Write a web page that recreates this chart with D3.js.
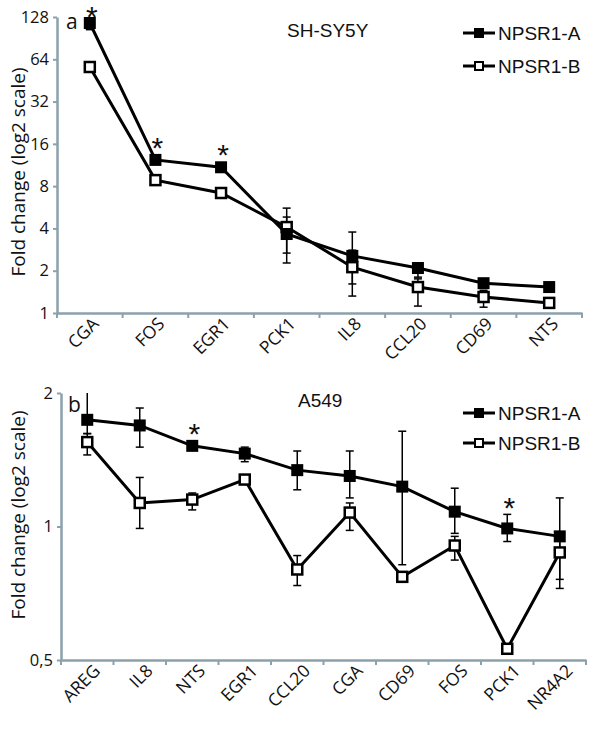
<!DOCTYPE html>
<html>
<head>
<meta charset="utf-8">
<script src="https://cdn.jsdelivr.net/npm/d3@7"></script>
<style>
  html, body { margin: 0; padding: 0; background: #fff; }
  svg { display: block; }
</style>
</head>
<body>
<svg id="chart" width="600" height="744"></svg>
<script>
// ---------- Data: panel a (SH-SY5Y) ----------
const catsA = ["CGA", "FOS", "EGR1", "PCK1", "IL8", "CCL20", "CD69", "NTS"];
const aNPSR1A = [116, 12.3, 10.9, 3.65, 2.55, 2.09, 1.63, 1.53];
const aNPSR1B = [56.4, 8.83, 7.15, 4.09, 2.12, 1.53, 1.30, 1.18];
const aHiA = [126, null, null, 5.58, 3.77, 2.27, 1.70, 1.58];
const aLoA = [104, null, null, 2.27, 1.61, 1.80, 1.55, 1.48];
const aHiB = [null, null, null, 4.82, 2.80, 1.75, 1.45, null];
const aLoB = [null, null, null, 2.67, 1.32, 1.12, 1.10, null];
const aStars = ["CGA", "FOS", "EGR1"];
const aTicks = [1, 2, 4, 8, 16, 32, 64, 128];
const aTickLabels = ["1", "2", "4", "8", "16", "32", "64", "128"];

// ---------- Data: panel b (A549) ----------
const catsB = ["AREG", "IL8", "NTS", "EGR1", "CCL20", "CGA", "CD69", "FOS", "PCK1", "NR4A2"];
const bNPSR1A = [1.74, 1.69, 1.52, 1.46, 1.34, 1.30, 1.23, 1.08, 0.99, 0.95];
const bNPSR1B = [1.55, 1.13, 1.15, 1.276, 0.80, 1.075, 0.77, 0.906, 0.53, 0.874];
const bHiA = [2.0, 1.85, null, 1.51, 1.48, 1.48, 1.64, 1.22, 1.065, 1.16];
const bLoA = [1.62, 1.51, null, 1.40, 1.21, 1.16, 0.82, 0.965, 0.925, 0.76];
const bHiB = [1.62, 1.29, 1.19, null, 0.86, 1.13, null, 0.95, null, 0.95];
const bLoB = [1.45, 0.99, 1.09, null, 0.736, 0.98, null, 0.84, null, 0.725];
const bStars = ["NTS", "PCK1"];
const bTicks = [0.5, 1, 2];
const bTickLabels = ["0,5", "1", "2"];

const seriesNames = ["NPSR1-A", "NPSR1-B"];

const svg = d3.select("#chart");
const AXIS_COLOR = "#8ba1ac";
const TICK_FONT = "'Open Sans', 'Noto Sans', sans-serif";
const ARIAL = "'Liberation Sans', Arial, sans-serif";

function panel(cfg) {
  const g = svg.append("g");
  const x = d3.scaleBand().domain(cfg.cats).range([cfg.x0, cfg.x1]);
  const y = d3.scaleLog().base(2).domain(cfg.yDomain).range([cfg.yBottom, cfg.yTop]);
  const cx = c => x(c) + x.bandwidth() / 2;

  // y axis
  const yAxis = d3.axisLeft(y)
    .tickValues(cfg.ticks)
    .tickFormat((d, i) => cfg.tickLabels[i])
    .tickSizeInner(4).tickSizeOuter(0).tickPadding(4);
  const ya = g.append("g").attr("transform", `translate(${cfg.x0},0)`).call(yAxis);
  ya.select(".domain").attr("stroke", AXIS_COLOR).attr("stroke-width", 2.5);
  ya.selectAll(".tick line").attr("stroke", AXIS_COLOR).attr("stroke-width", 2);
  ya.selectAll(".tick text").attr("font-family", TICK_FONT).attr("font-size", 16.5).attr("fill", "#111");

  // x axis (line + boundary ticks)
  const xAxis = d3.axisBottom(x).tickSize(0).tickFormat("");
  const xa = g.append("g").attr("transform", `translate(0,${cfg.yBottom})`).call(xAxis);
  xa.select(".domain").attr("stroke", AXIS_COLOR).attr("stroke-width", 2.5);
  const bounds = cfg.cats.map(c => x(c)).concat([x.range()[1]]);
  g.selectAll(".xb").data(bounds).enter().append("line")
    .attr("x1", d => d).attr("x2", d => d)
    .attr("y1", cfg.yBottom).attr("y2", cfg.yBottom + 5)
    .attr("stroke", AXIS_COLOR).attr("stroke-width", 2);

  // x labels
  g.selectAll(".xl").data(cfg.cats).enter().append("text")
    .attr("transform", d => `translate(${cx(d) + cfg.lblDx},${cfg.yBottom + cfg.lblDy}) rotate(-45)`)
    .attr("text-anchor", "end")
    .attr("font-family", TICK_FONT).attr("font-size", 17.5).attr("fill", "#111")
    .text(d => d);

  // y title
  g.append("text")
    .attr("transform", `translate(25,${cfg.titleY}) rotate(-90)`)
    .attr("text-anchor", "middle")
    .attr("font-family", TICK_FONT).attr("font-size", 19).attr("fill", "#111")
    .text("Fold change (log2 scale)");

  // panel letter and title
  g.append("text").attr("x", cfg.letterX).attr("y", cfg.letterY)
    .attr("font-family", TICK_FONT).attr("font-size", 21).attr("fill", "#111").text(cfg.letter);
  g.append("text").attr("x", cfg.nameX).attr("y", cfg.nameY)
    .attr("font-family", ARIAL).attr("font-size", 19).attr("fill", "#111").text(cfg.name);

  const line = d3.line().x((d, i) => cx(cfg.cats[i])).y(d => y(d));
  const dataA = cfg.A, dataB = cfg.B;

  g.append("path").datum(dataB).attr("d", line).attr("fill", "none")
    .attr("stroke", "#000").attr("stroke-width", 3).attr("stroke-linejoin", "miter");
  g.append("path").datum(dataA).attr("d", line).attr("fill", "none")
    .attr("stroke", "#000").attr("stroke-width", 3).attr("stroke-linejoin", "miter");

  // error bars
  const yMax = cfg.yDomain[1];
  function errs(hi, lo) {
    const items = cfg.cats.map((c, i) => ({c, hi: hi[i], lo: lo[i]})).filter(d => d.hi != null);
    const eg = g.append("g").attr("stroke", "#000").attr("stroke-width", 1.5);
    items.forEach(d => {
      const X = cx(d.c), y1 = y(d.hi), y2 = y(d.lo);
      eg.append("line").attr("x1", X).attr("x2", X).attr("y1", y1).attr("y2", y2);
      if (d.hi < yMax) eg.append("line").attr("x1", X - 4).attr("x2", X + 4).attr("y1", y1).attr("y2", y1);
      eg.append("line").attr("x1", X - 4).attr("x2", X + 4).attr("y1", y2).attr("y2", y2);
    });
  }
  errs(cfg.hiB, cfg.loB);
  errs(cfg.hiA, cfg.loA);

  // markers
  g.selectAll(".mb").data(dataB).enter().append("rect")
    .attr("x", (d, i) => cx(cfg.cats[i]) - 5).attr("y", d => y(d) - 5)
    .attr("width", 10).attr("height", 10)
    .attr("fill", "#fff").attr("stroke", "#000").attr("stroke-width", 2.5);
  g.selectAll(".ma").data(dataA).enter().append("rect")
    .attr("x", (d, i) => cx(cfg.cats[i]) - 6).attr("y", d => y(d) - 6)
    .attr("width", 12).attr("height", 12).attr("fill", "#000");

  // significance stars (placed just above the marker / error bar)
  const starSize = 30;
  cfg.stars.forEach(c => {
    const i = cfg.cats.indexOf(c);
    let top = y(cfg.A[i]) - 6;
    if (cfg.hiA[i] != null) top = Math.min(top, y(cfg.hiA[i]));
    const centre = Math.max(10, top - 13);
    g.append("text").attr("x", cx(c) + 2).attr("y", centre + 0.56 * starSize)
      .attr("text-anchor", "middle")
      .attr("font-family", ARIAL).attr("font-size", starSize).attr("fill", "#111")
      .text("*");
  });

  // legend
  seriesNames.forEach((s, k) => {
    const ly = cfg.legY[k];
    g.append("line").attr("x1", 463).attr("x2", 495).attr("y1", ly).attr("y2", ly)
      .attr("stroke", "#000").attr("stroke-width", 3);
    if (k === 0) {
      g.append("rect").attr("x", 474).attr("y", ly - 5).attr("width", 10).attr("height", 10).attr("fill", "#000");
    } else {
      g.append("rect").attr("x", 475).attr("y", ly - 4).attr("width", 8).attr("height", 8)
        .attr("fill", "#fff").attr("stroke", "#000").attr("stroke-width", 2);
    }
    g.append("text").attr("x", 498).attr("y", ly).attr("dy", "0.36em")
      .attr("font-family", ARIAL).attr("font-size", 19).attr("fill", "#111").text(s);
  });
}

panel({
  cats: catsA, A: aNPSR1A, B: aNPSR1B,
  hiA: aHiA, loA: aLoA, hiB: aHiB, loB: aLoB, stars: aStars,
  ticks: aTicks, tickLabels: aTickLabels, yDomain: [1, 128],
  x0: 57, x1: 582, yBottom: 313, yTop: 17,
  lblDx: 10, lblDy: 12, titleY: 172,
  letter: "a", letterX: 66, letterY: 29,
  name: "SH-SY5Y", nameX: 287, nameY: 37,
  legY: [33, 66]
});

panel({
  cats: catsB, A: bNPSR1A, B: bNPSR1B,
  hiA: bHiA, loA: bLoA, hiB: bHiB, loB: bLoB, stars: bStars,
  ticks: bTicks, tickLabels: bTickLabels, yDomain: [0.5, 2],
  x0: 61, x1: 586, yBottom: 660, yTop: 393,
  lblDx: 14, lblDy: 12, titleY: 515,
  letter: "b", letterX: 68, letterY: 412,
  name: "A549", nameX: 298, nameY: 407,
  legY: [413, 443]
});
</script>
</body>
</html>
